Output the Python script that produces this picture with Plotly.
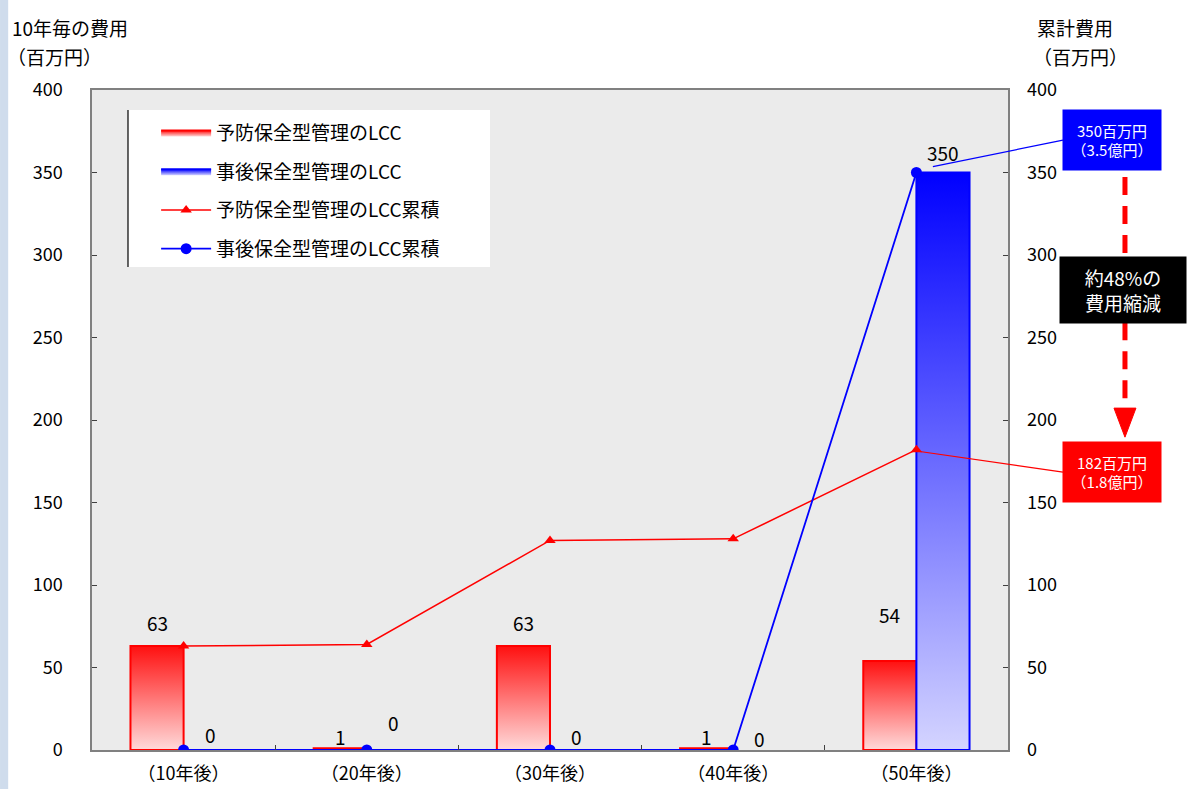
import plotly.graph_objects as go

categories = ["（10年後）", "（20年後）", "（30年後）", "（40年後）", "（50年後）"]
preventive_lcc = [63, 1, 63, 1, 54]
corrective_lcc = [0, 0, 0, 0, 350]
preventive_cum = [63, 64, 127, 128, 182]
corrective_cum = [0, 0, 0, 0, 350]
y_ticks = [0, 50, 100, 150, 200, 250, 300, 350, 400]

names = ["予防保全型管理のLCC", "事後保全型管理のLCC",
         "予防保全型管理のLCC累積", "事後保全型管理のLCC累積"]

# layout / style settings
BAR_W = 0.29
red_label_shift = [24, 12, 24, 12, 46]
blue_label_shift = [16, 28, 14, 12, 20]
FONT = "Noto Sans CJK JP"

fig = go.Figure()
xs = list(range(len(categories)))


def bar_shape(x0, x1, v):
    return [x0, x0, x1, x1, x0], [0, v, v, 0, 0]


for i, v in enumerate(preventive_lcc):
    bx, by = bar_shape(i - BAR_W, i, v)
    fig.add_trace(go.Scatter(
        x=bx, y=by, mode="lines", fill="toself",
        line=dict(color="#ff0000", width=2),
        fillgradient=dict(type="vertical",
                          colorscale=[[0, "#ffdada"], [1, "#ff1010"]]),
        name=names[0], legendgroup="g0", showlegend=(i == 0),
        hoverinfo="skip"))

for i, v in enumerate(corrective_lcc):
    if v <= 0:
        continue
    bx, by = bar_shape(i, i + BAR_W, v)
    fig.add_trace(go.Scatter(
        x=bx, y=by, mode="lines", fill="toself",
        line=dict(color="#0000ff", width=2),
        fillgradient=dict(type="vertical",
                          colorscale=[[0, "#d4d4ff"], [1, "#0000ff"]]),
        name=names[1], legendgroup="g1", showlegend=True,
        hoverinfo="skip"))

fig.add_trace(go.Scatter(
    x=xs, y=preventive_cum, mode="lines+markers", yaxis="y2",
    line=dict(color="#ff0000", width=1.5),
    marker=dict(symbol="triangle-up", size=10, color="#ff0000"),
    name=names[2], legendgroup="g2"))
fig.add_trace(go.Scatter(
    x=xs, y=corrective_cum, mode="lines+markers", yaxis="y2",
    line=dict(color="#0000ff", width=1.8),
    marker=dict(symbol="circle", size=11, color="#0000ff"),
    name=names[3], legendgroup="g3"))

annotations = []
for i, v in enumerate(preventive_lcc):
    annotations.append(dict(x=i - BAR_W / 2, y=v, xref="x", yref="y",
                            text=str(v), showarrow=False, yshift=red_label_shift[i],
                            font=dict(size=19, color="#000000")))
for i, v in enumerate(corrective_lcc):
    annotations.append(dict(x=i + BAR_W / 2, y=v, xref="x", yref="y",
                            text=str(v), showarrow=False, yshift=blue_label_shift[i],
                            font=dict(size=19, color="#000000")))

# axis titles
ttl = dict(showarrow=False, xanchor="left", yanchor="middle",
           xref="paper", yref="paper", font=dict(size=19, color="#000"))
annotations += [
    dict(x=-0.0895, y=1.094, text="10年毎の費用", **ttl),
    dict(x=-0.0945, y=1.050, text="（百万円）", **ttl),
    dict(x=1.0295, y=1.094, text="累計費用", **ttl),
    dict(x=1.025, y=1.050, text="（百万円）", **ttl),
]

# callout boxes
box = dict(showarrow=False, xanchor="center", yanchor="middle",
           xref="paper", yref="paper")
annotations += [
    dict(x=1.1135, y=0.924, text="350百万円<br>（3.5億円）",
         bgcolor="#0000ff", width=96, height=58,
         font=dict(size=15, color="#ffffff"), **box),
    dict(x=1.1135, y=0.421, text="182百万円<br>（1.8億円）",
         bgcolor="#ff0000", width=96, height=58,
         font=dict(size=15, color="#ffffff"), **box),
    dict(x=1.1256, y=0.697, text="約48%の<br>費用縮減",
         bgcolor="#000000", width=124, height=64,
         font=dict(size=19, color="#ffffff"), **box),
]

shapes = [
    # left decorative strip
    dict(type="rect", xref="paper", yref="paper", x0=-0.1004, x1=-0.0915,
         y0=-0.06, y1=1.137, fillcolor="#cfdcec", line=dict(width=0), layer="below"),
    # legend panel
    dict(type="rect", xref="paper", yref="paper", x0=0.0393, x1=0.4345,
         y0=0.7318, y1=0.9697, fillcolor="#ffffff", line=dict(width=0), layer="above"),
    dict(type="line", xref="paper", yref="paper", x0=0.0393, y0=0.7318,
         x1=0.0393, y1=0.9697, line=dict(color="#000000", width=1.2)),
    # connector lines
    dict(type="line", xref="paper", yref="paper", x0=0.918, y0=0.884,
         x1=1.060, y1=0.924, line=dict(color="#0000ff", width=1.2)),
    dict(type="line", xref="paper", yref="paper", x0=0.900, y0=0.453,
         x1=1.060, y1=0.421, line=dict(color="#ff0000", width=1.2)),
    # dashed arrow
    dict(type="line", xref="paper", yref="paper", x0=1.1277, y0=0.868,
         x1=1.1277, y1=0.747, line=dict(color="#ff0000", width=5, dash="18px,11px")),
    dict(type="line", xref="paper", yref="paper", x0=1.1277, y0=0.648,
         x1=1.1277, y1=0.520, line=dict(color="#ff0000", width=5, dash="18px,11px")),
    dict(type="path", xref="paper", yref="paper",
         path="M 1.1157 0.518 L 1.1397 0.518 L 1.1277 0.474 Z",
         fillcolor="#ff0000", line=dict(color="#ff0000", width=1)),
]

fig.update_layout(
    width=1190, height=789,
    margin=dict(l=92, r=182, t=90, b=39, autoexpand=False),
    paper_bgcolor="#ffffff", plot_bgcolor="#ebebeb",
    font=dict(family=FONT, size=16, color="#000000"),
    showlegend=True,
    legend=dict(x=0.070, y=0.964, xanchor="left", yanchor="top",
                bgcolor="rgba(0,0,0,0)", borderwidth=0, font=dict(size=19),
                traceorder="grouped", tracegroupgap=11,
                itemwidth=50),
    xaxis=dict(range=[-0.5, 4.5], tickvals=xs, ticktext=categories,
               ticks="", showgrid=False, zeroline=False, automargin=False,
               showline=True, linecolor="#808080", linewidth=1.5, mirror=True,
               tickfont=dict(size=18), ticklabelstandoff=7,
               minor=dict(tickvals=[0.5, 1.5, 2.5, 3.5], ticks="inside",
                          ticklen=5, tickcolor="#404040", showgrid=False)),
    yaxis=dict(range=[0, 400], tickvals=y_ticks, ticks="inside", ticklen=5,
               tickcolor="#404040", showgrid=False, zeroline=False, automargin=False,
               showline=True, linecolor="#808080", linewidth=1.5, mirror=True,
               tickfont=dict(size=18), ticklabelstandoff=24),
    yaxis2=dict(range=[0, 400], tickvals=y_ticks, overlaying="y", side="right",
                ticks="inside", ticklen=5, tickcolor="#404040", showgrid=False,
                zeroline=False, showline=False, automargin=False,
                tickfont=dict(size=18), ticklabelstandoff=18),
    annotations=annotations,
    shapes=shapes,
)

fig.write_html("out.html", config={"displayModeBar": False},
               post_script="document.body.style.margin='0';document.body.style.padding='0';")
